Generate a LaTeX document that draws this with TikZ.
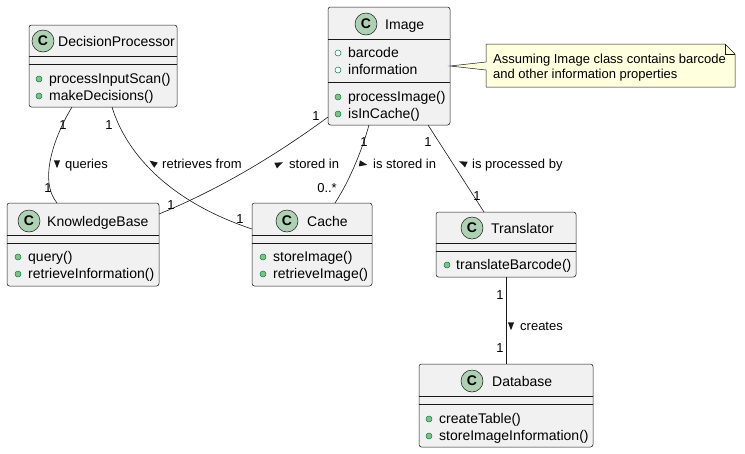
\documentclass[tikz,border=0pt]{standalone}
\usepackage{fontspec}
\setmainfont{Liberation Sans}
\definecolor{boxfill}{HTML}{F1F1F1}
\definecolor{linec}{HTML}{181818}
\definecolor{spotc}{HTML}{ADD1B2}
\definecolor{pubfill}{HTML}{84BE84}
\definecolor{pubdraw}{HTML}{038048}
\definecolor{notefill}{HTML}{FEFFDD}
\newcommand\labtri[3]{\fill[tri, shift={(#1,#2)}] ({-(#3)}:4.2) -- ({140-(#3)}:4.8) -- ({-140-(#3)}:4.8) -- cycle;}
\begin{document}
\begin{tikzpicture}[x=1pt,y=-1pt,
  cls/.style={draw=linec, fill=boxfill, rounded corners=2.5pt, line width=0.5pt, inner sep=0pt, outer sep=0pt, anchor=north west},
  sepl/.style={draw=linec, line width=0.5pt},
  spot/.style={circle, draw=linec, fill=spotc, minimum size=22pt, inner sep=0pt, line width=0.5pt, font=\fontsize{14}{14}\selectfont\bfseries},
  cname/.style={anchor=base west, inner sep=0pt, font=\fontsize{14}{16}\selectfont},
  mem/.style={anchor=base west, inner sep=0pt, font=\fontsize{14}{16}\selectfont},
  pubm/.style={circle, fill=pubfill, draw=pubdraw, minimum size=6pt, inner sep=0pt, line width=0.5pt},
  pubf/.style={circle, fill=white, draw=pubdraw, minimum size=6pt, inner sep=0pt, line width=0.5pt},
  elabel/.style={anchor=base west, inner sep=0pt, font=\fontsize{13}{15}\selectfont},
  mult/.style={inner sep=0pt, font=\fontsize{13}{15}\selectfont},
  edge/.style={draw=linec, line width=0.6pt},
  tri/.style={fill=linec}
]
\useasboundingbox (0,0) rectangle (745,453);
\fill[white] (0,0) rectangle (745,453);

% DecisionProcessor
\node[cls, minimum width=148pt, minimum height=82pt] (DP) at (29,25) {};
\draw[sepl] ([yshift=-31pt]DP.north west) -- ([yshift=-31pt]DP.north east);
\draw[sepl] ([yshift=-39pt]DP.north west) -- ([yshift=-39pt]DP.north east);
\node[spot] (DPc) at (43,41) {C};
\node[cname] (DPn) at (58,46) {DecisionProcessor};
\node[pubm] (DPi1) at (39,79) {};
\node[mem] (DPm1) at (49,83.5) {processInputScan()};
\node[pubm] (DPi2) at (39,96) {};
\node[mem] (DPm2) at (49,100.5) {makeDecisions()};

% Image
\node[cls, minimum width=122pt, minimum height=118pt] (IM) at (328,7) {};
\draw[sepl] ([yshift=-32pt]IM.north west) -- ([yshift=-32pt]IM.north east);
\draw[sepl] ([yshift=-75pt]IM.north west) -- ([yshift=-75pt]IM.north east);
\node[spot] (IMc) at (366,24) {C};
\node[cname] (IMn) at (385,29) {Image};
\node[pubf] (IMi1) at (338,53) {};
\node[mem] (IMf1) at (348,57.5) {barcode};
\node[pubf] (IMi2) at (338,70) {};
\node[mem] (IMf2) at (348,74.5) {information};
\node[pubm] (IMi3) at (338,97) {};
\node[mem] (IMm1) at (348,101.5) {processImage()};
\node[pubm] (IMi4) at (338,114) {};
\node[mem] (IMm2) at (348,118.5) {isInCache()};

% KnowledgeBase
\node[cls, minimum width=152pt, minimum height=83pt] (KB) at (7,203) {};
\draw[sepl] ([yshift=-32pt]KB.north west) -- ([yshift=-32pt]KB.north east);
\draw[sepl] ([yshift=-40pt]KB.north west) -- ([yshift=-40pt]KB.north east);
\node[spot] (KBc) at (29,221) {C};
\node[cname] (KBn) at (47,226) {KnowledgeBase};
\node[pubm] (KBi1) at (18,257) {};
\node[mem] (KBm1) at (28,261.5) {query()};
\node[pubm] (KBi2) at (18,274) {};
\node[mem] (KBm2) at (28,278.5) {retrieveInformation()};

% Cache
\node[cls, minimum width=120pt, minimum height=83pt] (CA) at (252,203) {};
\draw[sepl] ([yshift=-32pt]CA.north west) -- ([yshift=-32pt]CA.north east);
\draw[sepl] ([yshift=-40pt]CA.north west) -- ([yshift=-40pt]CA.north east);
\node[spot] (CAc) at (287,221) {C};
\node[cname] (CAn) at (307,226) {Cache};
\node[pubm] (CAi1) at (263,257) {};
\node[mem] (CAm1) at (273,261.5) {storeImage()};
\node[pubm] (CAi2) at (263,274) {};
\node[mem] (CAm2) at (273,278.5) {retrieveImage()};

% Translator
\node[cls, minimum width=140pt, minimum height=65pt] (TR) at (436,212) {};
\draw[sepl] ([yshift=-31pt]TR.north west) -- ([yshift=-31pt]TR.north east);
\draw[sepl] ([yshift=-39pt]TR.north west) -- ([yshift=-39pt]TR.north east);
\node[spot] (TRc) at (472,228) {C};
\node[cname] (TRn) at (491,233) {Translator};
\node[pubm] (TRi1) at (447,265) {};
\node[mem] (TRm1) at (456,269.5) {translateBarcode()};

% Database
\node[cls, minimum width=174pt, minimum height=83pt] (DB) at (419,364) {};
\draw[sepl] ([yshift=-32pt]DB.north west) -- ([yshift=-32pt]DB.north east);
\draw[sepl] ([yshift=-40pt]DB.north west) -- ([yshift=-40pt]DB.north east);
\node[spot] (DBc) at (472,381) {C};
\node[cname] (DBn) at (492,386) {Database};
\node[pubm] (DBi1) at (429,419) {};
\node[mem] (DBm1) at (439,423.5) {createTable()};
\node[pubm] (DBi2) at (429,436) {};
\node[mem] (DBm2) at (439,440.5) {storeImageInformation()};

% Note
\coordinate (NTa) at (486,62);
\coordinate (NTb) at (486,70);
\filldraw[fill=notefill, draw=linec, line width=0.5pt]
  (486,44) -- (725,44) -- (735,54) -- (735,87) -- (486,87) -- (NTb) -- ([yshift=-59pt]IM.north east) -- (NTa) -- cycle;
\draw[linec, line width=0.5pt] (725,44) -- (725,54) -- (735,54);
\node[elabel] (NT1) at (493,63.5) {Assuming Image class contains barcode};
\node[elabel] (NT2) at (493,78.5) {and other information properties};

% Connectors
\draw[edge] ([xshift=43pt]DP.south west) .. controls (55,135) and (38,180) .. ([xshift=50pt]KB.north west);
\draw[edge] ([xshift=83pt]DP.south west) .. controls (125,150) and (165,200) .. ([yshift=-26pt]CA.north west);
\draw[edge] ([yshift=-110pt]IM.north west) .. controls (290,145) and (230,185) .. ([yshift=-11pt]KB.north east);
\draw[edge] ([xshift=41pt]IM.south west) .. controls (362,150) and (350,180) .. ([xshift=83pt]CA.north west);
\draw[edge] ([xshift=100pt]IM.south west) -- ([xshift=48pt]TR.north west);
\draw[edge] ([xshift=70pt]TR.south west) -- ([xshift=87pt]DB.north west);

% multiplicities
\node[mult] (m1a) at (63,125) {1};
\node[mult] (m1b) at (48,188) {1};
\node[mult] (m2a) at (109,125) {1};
\node[mult] (m2b) at (240,219) {1};
\node[mult] (m3a) at (316,116) {1};
\node[mult] (m3b) at (171,205) {1};
\node[mult] (m4a) at (364,142) {1};
\node[mult, anchor=east] (m4b) at (337,188) {0..*};
\node[mult] (m5a) at (428,142) {1};
\node[mult] (m5b) at (477,196) {1};
\node[mult] (m6a) at (500,295) {1};
\node[mult] (m6b) at (500,348) {1};

% edge labels
\labtri{57}{164}{-90}
\node[elabel] (l1) at (65,168.5) {queries};
\labtri{153}{163}{145}
\node[elabel] (l2) at (162,168.5) {retrieves from};
\labtri{279}{164}{25}
\node[elabel] (l3) at (289,168.5) {stored in};
\labtri{363}{164}{-10}
\node[elabel] (l4) at (373,168.5) {is stored in};
\labtri{463}{163}{155}
\node[elabel] (l5) at (472,168.5) {is processed by};
\labtri{511}{326}{-90}
\node[elabel] (l6) at (520,330.5) {creates};
\end{tikzpicture}
\end{document}
